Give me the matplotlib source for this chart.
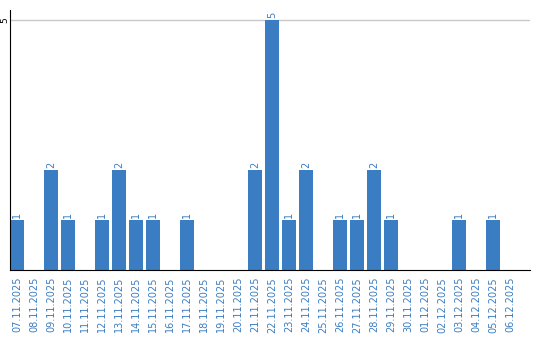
import matplotlib
matplotlib.use("Agg")
import matplotlib.pyplot as plt

## Daten
dates = ["07.11.2025", "08.11.2025", "09.11.2025", "10.11.2025", "11.11.2025",
         "12.11.2025", "13.11.2025", "14.11.2025", "15.11.2025", "16.11.2025",
         "17.11.2025", "18.11.2025", "19.11.2025", "20.11.2025", "21.11.2025",
         "22.11.2025", "23.11.2025", "24.11.2025", "25.11.2025", "26.11.2025",
         "27.11.2025", "28.11.2025", "29.11.2025", "30.11.2025", "01.12.2025",
         "02.12.2025", "03.12.2025", "04.12.2025", "05.12.2025", "06.12.2025"]
counts = [1, 0, 2, 1, 0, 1, 2, 1, 1, 0, 1, 0, 0, 0, 2,
          5, 1, 2, 0, 1, 1, 2, 1, 0, 0, 0, 1, 0, 1, 0]

blue = "#3a7dc2"

fig = plt.figure(figsize=(5.4, 3.4), dpi=100)
ax = fig.add_axes([10 / 540, 70 / 340, 520 / 540, 260 / 340])

x = range(len(dates))
ax.bar(x, counts, width=0.82, color=blue, zorder=2)

## Werte ueber den Balken
for i, v in zip(x, counts):
    if v > 0:
        ax.text(i, v + 0.04, str(v), rotation=90, ha="center", va="bottom",
                color=blue, fontsize=7)

ax.set_xlim(-0.41, 30.18)
ax.set_ylim(0, 5.2)
ax.axhline(5, color="#c8c8c8", lw=1, zorder=1)

ax.set_yticks([5])
ax.set_yticklabels(["5"], rotation=90, va="center", ha="center", fontsize=6.5)
ax.tick_params(axis="y", length=0, pad=4)

ax.set_xticks(list(x))
ax.set_xticklabels(dates, rotation=90, color=blue, fontsize=7)
ax.tick_params(axis="x", length=0, pad=5)

for s in ["top", "right"]:
    ax.spines[s].set_visible(False)
ax.spines["left"].set_color("black")
ax.spines["bottom"].set_color("black")

fig.savefig("out.png", dpi=100)
